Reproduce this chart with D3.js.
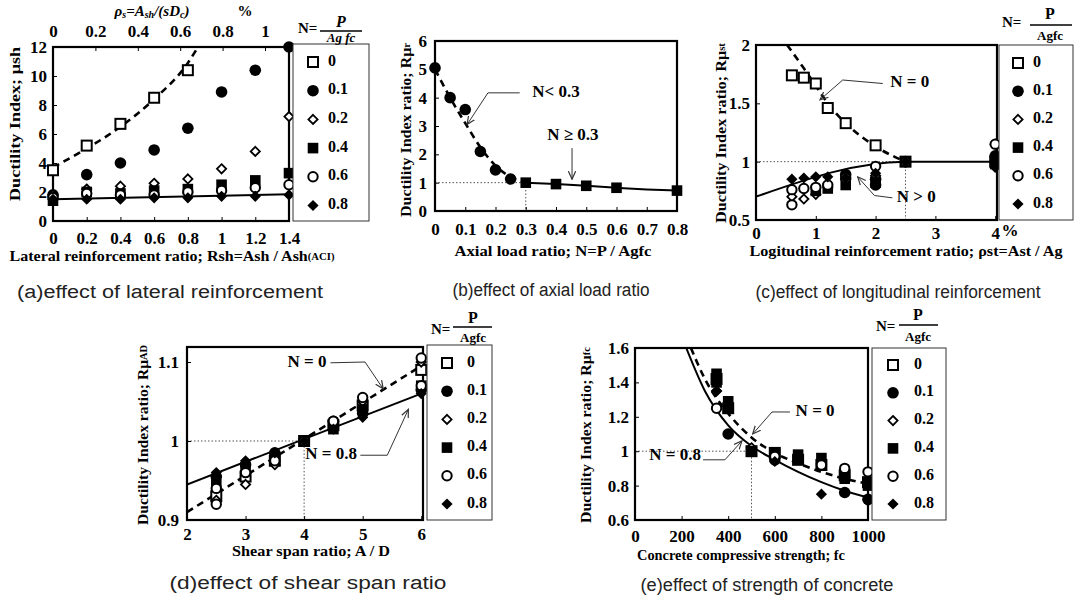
<!DOCTYPE html>
<html>
<head>
<meta charset="utf-8">
<script src="https://cdn.jsdelivr.net/npm/d3@7"></script>
<style>
  body { margin: 0; background: #fff; }
  svg { display: block; }
</style>
</head>
<body>
<div id="chart"></div>
<script>
const W = 1078, H = 603;
const SERIF = "'Liberation Serif', 'Times New Roman', serif";
const SANS = "'Liberation Sans', Arial, sans-serif";

// legend levels N = P / Ag fc, one marker style each
const levels = ["0", "0.1", "0.2", "0.4", "0.6", "0.8"];
const shapes = ["openSquare", "filledCircle", "openDiamond", "filledSquare", "openCircle", "filledDiamond"];

// (a) lateral reinforcement: Rsh vs ductility index
const aXTicks = [0, 0.2, 0.4, 0.6, 0.8, 1, 1.2, 1.4];
const aYTicks = [0, 2, 4, 6, 8, 10, 12];
const aTopTicks = [0, 0.2, 0.4, 0.6, 0.8, 1];
const aSeries = [
  [[0, 3.5], [0.2, 5.2], [0.4, 6.7], [0.6, 8.5], [0.8, 10.4]],
  [[0, 1.8], [0.2, 3.2], [0.4, 4.0], [0.6, 4.9], [0.8, 6.4], [1.0, 8.9], [1.2, 10.4], [1.4, 12]],
  [[0, 1.8], [0.2, 2.2], [0.4, 2.4], [0.6, 2.6], [0.8, 2.9], [1.0, 3.6], [1.2, 4.8], [1.4, 7.2]],
  [[0, 1.4], [0.2, 2.0], [0.4, 1.9], [0.6, 2.1], [0.8, 2.2], [1.0, 2.5], [1.2, 2.8], [1.4, 3.3]],
  [[0, 1.6], [0.2, 1.9], [0.4, 1.8], [0.6, 1.8], [0.8, 2.0], [1.0, 2.1], [1.2, 2.3], [1.4, 2.5]],
  [[0, 1.5], [0.2, 1.5], [0.4, 1.5], [0.6, 1.6], [0.8, 1.6], [1.0, 1.7], [1.2, 1.7], [1.4, 1.8]]
];
const aDashed = [[0, 3.7], [0.2, 5.0], [0.4, 6.5], [0.6, 8.4], [0.8, 10.9], [0.86, 12]];
const aSolid = [[0, 1.5], [1.4, 1.85]];

// (b) axial load ratio
const bXTicks = [0, 0.1, 0.2, 0.3, 0.4, 0.5, 0.6, 0.7, 0.8];
const bYTicks = [0, 1, 2, 3, 4, 5, 6];
const bCircles = [[0, 5.05], [0.05, 4.0], [0.1, 3.58], [0.15, 2.1], [0.2, 1.45], [0.25, 1.13]];
const bSquares = [[0.3, 1.0], [0.4, 0.95], [0.5, 0.89], [0.6, 0.82], [0.8, 0.72]];
const bDashed = [[0, 5.0], [0.05, 4.0], [0.1, 3.1], [0.15, 2.25], [0.2, 1.6], [0.25, 1.2], [0.3, 1.0]];
const bSolid = [[0.3, 1.0], [0.4, 0.95], [0.5, 0.89], [0.6, 0.82], [0.7, 0.76], [0.8, 0.72]];

// (c) longitudinal reinforcement
const cXTicks = [0, 1, 2, 3, 4];
const cYTicks = [0.5, 1, 1.5, 2];
const cSeries = [
  [[0.6, 1.74], [0.8, 1.72], [1.0, 1.67], [1.2, 1.46], [1.5, 1.33], [2.0, 1.14], [2.5, 1.0], [4, 1.0]],
  [[1.5, 0.89], [2.0, 0.85], [2.0, 0.8], [2.5, 1.0], [4, 1.05]],
  [[0.6, 0.7], [0.8, 0.68], [1.0, 0.72], [1.2, 0.78], [1.5, 0.85], [2.0, 0.88], [2.5, 1.0], [4, 1.15]],
  [[1.0, 0.75], [1.2, 0.77], [1.5, 0.8], [2.0, 0.82], [2.5, 1.0], [4, 0.98]],
  [[0.6, 0.63], [0.6, 0.76], [0.8, 0.77], [1.0, 0.78], [1.2, 0.8], [1.5, 0.86], [2.0, 0.96], [2.5, 1.0], [4, 1.15]],
  [[0.6, 0.85], [0.8, 0.86], [1.0, 0.87], [1.2, 0.87], [1.5, 0.86], [2.0, 0.9], [2.5, 1.0], [4, 0.95]]
];
const cDashed = [[0.52, 2.0], [0.8, 1.8], [1.0, 1.65], [1.2, 1.5], [1.5, 1.33], [2.0, 1.13], [2.5, 1.0]];
const cSolid = [[0, 0.7], [2.5, 1.0], [4.03, 1.0]];

// (d) shear span ratio
const dXTicks = [2, 3, 4, 5, 6];
const dYTicks = [0.9, 1, 1.1];
const dSeries = [
  [[2.5, 0.93], [3, 0.955], [3.5, 0.975], [4, 1.0], [4.5, 1.02], [5, 1.045], [6, 1.09]],
  [[2.5, 0.955], [3, 0.97], [3.5, 0.985], [4, 1.0], [4.5, 1.025], [5, 1.035], [6, 1.065]],
  [[2.5, 0.925], [3, 0.945], [3.5, 0.97], [4, 1.0], [4.5, 1.02], [5, 1.05], [6, 1.1]],
  [[2.5, 0.945], [3, 0.965], [3.5, 0.98], [4, 1.0], [4.5, 1.015], [5, 1.04], [6, 1.07]],
  [[2.5, 0.92], [2.5, 0.94], [3, 0.96], [3.5, 0.975], [4, 1.0], [4.5, 1.025], [5, 1.055], [6, 1.105], [6, 1.07]],
  [[2.5, 0.96], [3, 0.975], [3.5, 0.985], [4, 1.0], [4.5, 1.015], [5, 1.03], [6, 1.06]]
];
const dDashed = [[2, 0.91], [6, 1.095]];
const dSolid = [[2, 0.945], [6, 1.06]];

// (e) concrete strength
const eXTicks = [0, 200, 400, 600, 800, 1000];
const eYTicks = [0.6, 0.8, 1, 1.2, 1.4, 1.6];
const eSeries = [
  [[350, 1.42], [400, 1.25], [500, 1.0], [600, 0.99], [700, 0.95], [800, 0.92], [900, 0.86], [1000, 0.82]],
  [[400, 1.1], [600, 0.95], [900, 0.76], [1000, 0.72]],
  [[350, 1.35], [500, 1.02], [600, 0.97], [700, 0.96], [800, 0.93], [900, 0.85], [1000, 0.83]],
  [[350, 1.45], [350, 1.4], [400, 1.29], [400, 1.25], [500, 1.0], [600, 0.99], [700, 0.98], [700, 0.95],
   [800, 0.96], [800, 0.92], [900, 0.86], [900, 0.84], [1000, 0.82], [1000, 0.8]],
  [[350, 1.25], [600, 0.97], [800, 0.92], [900, 0.9], [1000, 0.88]],
  [[350, 1.35], [500, 1.0], [600, 0.94], [800, 0.75], [900, 0.76], [1000, 0.71]]
];
const eDashed = [[240, 1.6], [300, 1.42], [400, 1.22], [500, 1.08], [600, 0.99], [700, 0.93], [800, 0.88], [900, 0.84], [1000, 0.81]];
const eSolid = [[220, 1.6], [300, 1.35], [400, 1.15], [500, 1.03], [600, 0.95], [700, 0.88], [800, 0.82], [900, 0.77], [1000, 0.73]];

const svg = d3.select("#chart").append("svg")
  .attr("width", W).attr("height", H)
  .style("font-family", SERIF);

svg.append("rect").attr("width", W).attr("height", H).attr("fill", "#fff");

const defs = svg.append("defs");
defs.append("marker")
  .attr("id", "arr")
  .attr("viewBox", "0 0 10 10")
  .attr("refX", 9).attr("refY", 5)
  .attr("markerWidth", 9).attr("markerHeight", 9)
  .attr("markerUnits", "userSpaceOnUse")
  .attr("orient", "auto")
  .append("path")
  .attr("d", "M0,1L9,5L0,9")
  .attr("fill", "none").attr("stroke", "#333").attr("stroke-width", 1.3);

function marker(sel, shape, cx, cy) {
  const g = sel.append("g").attr("transform", `translate(${cx},${cy})`);
  if (shape === "openSquare") {
    g.append("rect").attr("x", -5).attr("y", -5).attr("width", 10).attr("height", 10)
      .attr("fill", "#fff").attr("stroke", "#000").attr("stroke-width", 2);
  } else if (shape === "filledSquare") {
    g.append("rect").attr("x", -5.3).attr("y", -5.3).attr("width", 10.6).attr("height", 10.6).attr("fill", "#000");
  } else if (shape === "filledCircle") {
    g.append("circle").attr("r", 5.8).attr("fill", "#000");
  } else if (shape === "openCircle") {
    g.append("circle").attr("r", 4.7).attr("fill", "#fff").attr("stroke", "#000").attr("stroke-width", 2);
  } else if (shape === "openDiamond") {
    g.append("path").attr("d", "M0,-4.6L4.6,0L0,4.6L-4.6,0Z")
      .attr("fill", "#fff").attr("stroke", "#000").attr("stroke-width", 1.8);
  } else {
    g.append("path").attr("d", "M0,-5.6L5.6,0L0,5.6L-5.6,0Z").attr("fill", "#000");
  }
}

function label(x, y, str, o = {}) {
  const t = svg.append("text")
    .attr("x", x).attr("y", y)
    .attr("text-anchor", o.anchor || "middle")
    .attr("dominant-baseline", o.baseline || "middle")
    .attr("font-size", o.size || 15)
    .attr("font-weight", o.weight || "bold")
    .attr("font-family", o.family || SERIF)
    .attr("fill", o.fill || "#000");
  if (o.italic) t.attr("font-style", "italic");
  if (o.len) t.attr("textLength", o.len).attr("lengthAdjust", "spacingAndGlyphs");
  if (o.rotate) t.attr("transform", `rotate(-90,${x},${y})`);
  if (o.parts) {
    o.parts.forEach(p => {
      const s = t.append("tspan").text(p[0]);
      if (p[1]) s.attr("font-size", p[1]);
      if (p[2]) s.attr("dy", p[2]);
    });
  } else {
    t.text(str);
  }
  return t;
}

const fmt = d => String(+d.toFixed(2));

function drawPanel(p) {
  const x = d3.scaleLinear().domain(p.xd).range(p.xr);
  const y = d3.scaleLinear().domain(p.yd).range(p.yr);
  const g = svg.append("g");

  defs.append("clipPath").attr("id", "clip-" + p.id)
    .append("rect")
    .attr("x", p.xr[0]).attr("y", p.yr[1])
    .attr("width", p.xr[1] - p.xr[0]).attr("height", p.yr[0] - p.yr[1]);

  // dotted reference lines at ratio = 1
  if (p.ref) {
    const rl = d3.line().x(d => x(d[0])).y(d => y(d[1]));
    g.append("path").attr("d", rl([[p.xd[0], 1], [p.ref, 1], [p.ref, p.yd[0]]]))
      .attr("fill", "none").attr("stroke", "#555").attr("stroke-width", 1)
      .attr("stroke-dasharray", "1.5,2");
  }

  // frame
  g.append("rect")
    .attr("x", p.xr[0]).attr("y", p.yr[1])
    .attr("width", p.xr[1] - p.xr[0]).attr("height", p.yr[0] - p.yr[1])
    .attr("fill", "none").attr("stroke", "#000").attr("stroke-width", 2.2);

  // fitted curves
  const lines = g.append("g").attr("clip-path", `url(#clip-${p.id})`);
  p.fits.forEach(f => {
    const ln = d3.line().x(d => x(d[0])).y(d => y(d[1]))
      .curve(f.pts.length > 2 ? d3.curveMonotoneX : d3.curveLinear);
    lines.append("path").attr("d", ln(f.pts))
      .attr("fill", "none").attr("stroke", "#000")
      .attr("stroke-width", f.dash ? 2.6 : 2)
      .attr("stroke-dasharray", f.dash ? "7,5" : null);
  });

  // points
  const pts = g.append("g");
  p.series.forEach((s, i) => {
    const shape = p.shapes ? p.shapes[i] : shapes[i];
    s.forEach(d => marker(pts, shape, x(d[0]), y(d[1])));
  });

  // axes (ticks inward)
  const ax = g.append("g").attr("transform", `translate(0,${p.yr[0]})`)
    .call(d3.axisBottom(x).tickValues(p.xt).tickSize(-4).tickPadding(p.xpad).tickFormat(fmt));
  const ay = g.append("g").attr("transform", `translate(${p.xr[0]},0)`)
    .call(d3.axisLeft(y).tickValues(p.yt).tickSize(-4).tickPadding(p.ypad).tickFormat(fmt));
  [ax, ay].forEach(a => {
    a.select(".domain").remove();
    a.attr("font-family", SERIF).attr("font-size", 17).attr("font-weight", "bold");
    a.selectAll("line").attr("stroke", "#000");
  });

  // annotations with arrows
  (p.notes || []).forEach(n => {
    const ln = d3.line().x(d => x(d[0])).y(d => y(d[1]));
    g.append("path").attr("d", ln(n.path))
      .attr("fill", "none").attr("stroke", "#333").attr("stroke-width", 1)
      .attr("marker-end", "url(#arr)");
    label(x(n.at[0]), y(n.at[1]), n.text, { size: 17, anchor: "middle" });
  });

  // legend
  if (p.legend) {
    const L = p.legend;
    g.append("rect").attr("x", L.x0).attr("y", L.y0)
      .attr("width", L.x1 - L.x0).attr("height", L.y1 - L.y0)
      .attr("fill", "#fff").attr("stroke", "#333").attr("stroke-width", 1);
    levels.forEach((lv, i) => {
      const yy = L.row0 + i * L.step;
      marker(g, shapes[i], L.mx, yy);
      label(L.tx, yy, lv, { anchor: "start", size: 16 });
    });
    const hd = L.head;
    label(hd.nx, hd.nBase, "N=", { anchor: "start", baseline: "auto", size: 15, italic: false });
    label(hd.fx, hd.pBase, "P", { baseline: "auto", size: 16, italic: hd.italic });
    g.append("line").attr("x1", hd.l0).attr("x2", hd.l1).attr("y1", hd.ly).attr("y2", hd.ly)
      .attr("stroke", "#000").attr("stroke-width", 1.6);
    label(hd.fx, hd.aBase, hd.den, { baseline: "auto", size: 13, italic: hd.italic });
  }
  return { x, y };
}

// ---- (a)
const pa = drawPanel({
  id: "a", xd: [0, 1.4], xr: [53, 289], yd: [0, 12], yr: [221, 47],
  xt: aXTicks, yt: aYTicks, xpad: 11, ypad: 6,
  series: aSeries,
  fits: [{ pts: aDashed, dash: true }, { pts: aSolid }],
  legend: {
    x0: 293, x1: 369, y0: 44, y1: 221, mx: 313, tx: 328, row0: 62, step: 28.7,
    head: { nx: 298, nBase: 33, fx: 341, pBase: 27, l0: 320, l1: 362, ly: 31, aBase: 42, den: "Ag fc", italic: true }
  }
});
// top axis of (a): ρs = Ash/(s Dc) %
const topScale = d3.scaleLinear().domain([0, 1]).range([53, 265]);
const topAxis = svg.append("g").attr("transform", "translate(0,47)")
  .call(d3.axisTop(topScale).tickValues(aTopTicks).tickSize(-4).tickPadding(10).tickFormat(fmt));
topAxis.select(".domain").remove();
topAxis.attr("font-family", SERIF).attr("font-size", 17).attr("font-weight", "bold");
label(152, 13, null, { italic: true, size: 15, parts: [["ρ"], ["s", 10, 3], ["=A", null, -3], ["sh", 10, 3], ["/(sD", null, -3], ["c", 10, 3], [")", null, -3]] });
label(245, 13, "%", { size: 15 });
label(17, 124, null, { rotate: true, size: 15, parts: [["Ductility Index;  μsh"]], len: 154 });
label(172, 258, null, { size: 15, len: 325, parts: [["Lateral reinforcement ratio; Rsh=Ash / Ash"], ["(ACI)", 10]] });
label(170, 293, "(a)effect of lateral reinforcement", { family: SANS, weight: "normal", size: 18, fill: "#222", len: 306 });

// ---- (b)
const pb = drawPanel({
  id: "b", xd: [0, 0.8], xr: [435, 677], yd: [0, 6], yr: [211, 41],
  xt: bXTicks, yt: bYTicks, xpad: 12, ypad: 8,
  series: [bCircles, bSquares], shapes: ["filledCircle", "filledSquare"],
  fits: [{ pts: bDashed, dash: true }, { pts: bSolid }],
  ref: 0.3,
  notes: [
    { text: "N< 0.3", at: [0.4, 4.17], path: [[0.28, 4.17], [0.175, 4.17], [0.106, 3.05]] },
    { text: "N ≥ 0.3", at: [0.456, 2.65], path: [[0.453, 2.22], [0.453, 1.12]] }
  ]
});
label(408, 130, null, { rotate: true, size: 15, len: 174, parts: [["Ductility Index ratio; Rμ"], ["r", 10]] });
label(553, 253, "Axial load ratio; N=P / Agfc", { size: 15, len: 197 });
label(551, 291, "(b)effect of axial load ratio", { family: SANS, weight: "normal", size: 18, fill: "#222", len: 197 });

// ---- (c)
const pc = drawPanel({
  id: "c", xd: [0, 4.03], xr: [756, 997], yd: [0.5, 2], yr: [220, 45],
  xt: cXTicks, yt: cYTicks, xpad: 7, ypad: 6,
  series: cSeries,
  fits: [{ pts: cDashed, dash: true }, { pts: cSolid }],
  ref: 2.5,
  notes: [
    { text: "N = 0", at: [2.57, 1.67], path: [[2.12, 1.67], [1.45, 1.70], [1.07, 1.53]] },
    { text: "N > 0", at: [2.68, 0.69], path: [[2.28, 0.69], [1.98, 0.71], [1.70, 0.87]] }
  ],
  legend: {
    x0: 999, x1: 1073, y0: 45, y1: 220, mx: 1018, tx: 1033, row0: 63, step: 28.2,
    head: { nx: 1002, nBase: 27, fx: 1050, pBase: 19, l0: 1030, l1: 1072, ly: 25, aBase: 40, den: "Agfc", italic: false }
  }
});
label(1010, 232, "%", { size: 17 });
label(723, 133, null, { rotate: true, size: 15, len: 180, parts: [["Ductility Index ratio; Rμ"], ["st", 10]] });
label(906, 253, "Logitudinal reinforcement ratio;  ρst=Ast / Ag", { size: 15, len: 313 });
label(898, 293, "(c)effect of longitudinal reinforcement", { family: SANS, weight: "normal", size: 18, fill: "#222", len: 285 });

// ---- (d)
const pd = drawPanel({
  id: "d", xd: [2, 6.03], xr: [187, 423], yd: [0.9, 1.119], yr: [520, 347],
  xt: dXTicks, yt: dYTicks, xpad: 8, ypad: 8,
  series: dSeries,
  fits: [{ pts: dDashed, dash: true }, { pts: dSolid }],
  ref: 4,
  notes: [
    { text: "N = 0", at: [4.05, 1.099], path: [[4.45, 1.099], [5.04, 1.1], [5.35, 1.066]] },
    { text: "N = 0.8", at: [4.46, 0.982], path: [[4.96, 0.982], [5.42, 0.982], [5.78, 1.04]] }
  ],
  legend: {
    x0: 427, x1: 492, y0: 345, y1: 520, mx: 447, tx: 467, row0: 363, step: 28.2,
    head: { nx: 431, nBase: 334, fx: 473, pBase: 323, l0: 453, l1: 492, ly: 327, aBase: 342, den: "Agfc", italic: false }
  }
});
label(145, 435, null, { rotate: true, size: 15, len: 180, parts: [["Ductility Index ratio; Rμ"], ["AD", 10]] });
label(311, 553, "Shear span ratio; A / D", { size: 15, len: 158 });
label(308, 584, "(d)effect of shear span ratio", { family: SANS, weight: "normal", size: 18, fill: "#222", len: 277 });

// ---- (e)
const pe = drawPanel({
  id: "e", xd: [0, 1000], xr: [635, 868], yd: [0.6, 1.6], yr: [520, 348],
  xt: eXTicks, yt: eYTicks, xpad: 10, ypad: 6,
  series: eSeries,
  fits: [{ pts: eDashed, dash: true }, { pts: eSolid }],
  ref: 500,
  notes: [
    { text: "N = 0", at: [773, 1.228], path: [[665, 1.228], [588, 1.228], [505, 1.1]] },
    { text: "N = 0.8", at: [172, 0.97], path: [[292, 0.95], [386, 0.95], [459, 1.06]] }
  ],
  legend: {
    x0: 872, x1: 946, y0: 348, y1: 520, mx: 893, tx: 914, row0: 365, step: 27.8,
    head: { nx: 876, nBase: 331, fx: 918, pBase: 320, l0: 899, l1: 938, ly: 325, aBase: 341, den: "Agfc", italic: false }
  }
});
label(588, 435, null, { rotate: true, size: 15, len: 176, parts: [["Ductility Index ratio; Rμ"], ["fc", 10]] });
label(741, 557, "Concrete compressive strength; fc", { size: 15, len: 208 });
label(767, 586, "(e)effect of strength of concrete", { family: SANS, weight: "normal", size: 18, fill: "#222", len: 253 });
</script>
</body>
</html>
